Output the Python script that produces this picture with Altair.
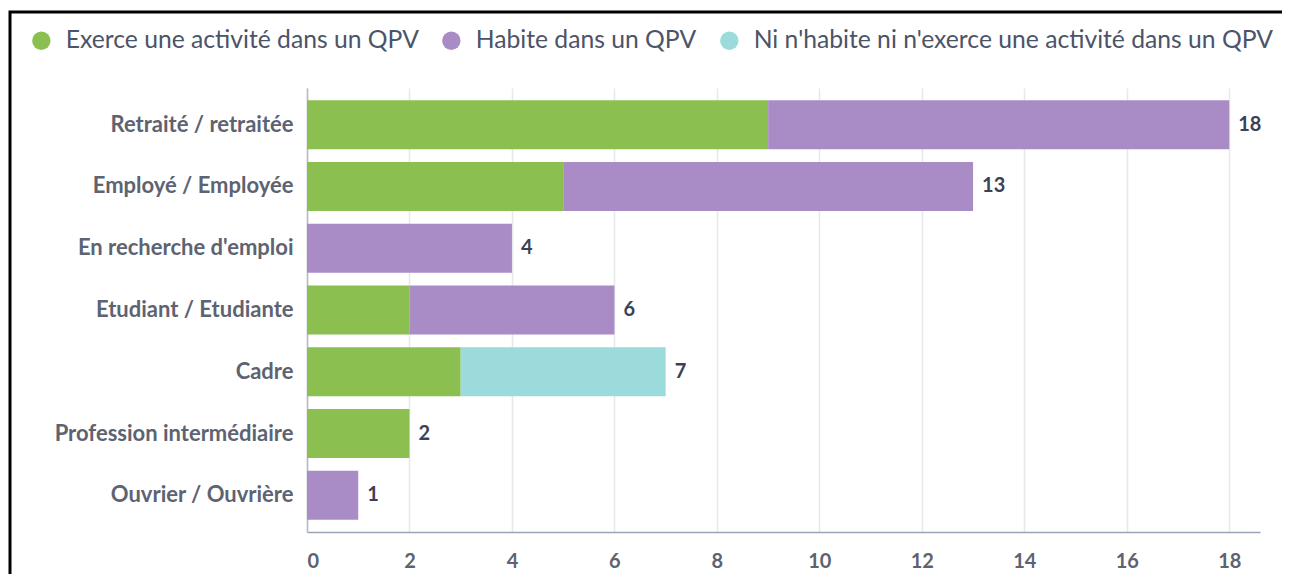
import altair as alt
import pandas as pd

categories = ["Retraité / retraitée", "Employé / Employée", "En recherche d'emploi",
              "Etudiant / Etudiante", "Cadre", "Profession intermédiaire", "Ouvrier / Ouvrière"]
series = ["Exerce une activité dans un QPV", "Habite dans un QPV",
          "Ni n'habite ni n'exerce une activité dans un QPV"]
exerce = [9, 5, 0, 2, 3, 2, 0]
habite = [9, 8, 4, 4, 0, 0, 1]
ni = [0, 0, 0, 0, 4, 0, 0]
totals = [18, 13, 4, 6, 7, 2, 1]
ticks = [0, 2, 4, 6, 8, 10, 12, 14, 16, 18]
colors = ["#8bbf4f", "#a98bc6", "#9cdbdb"]

rows = []
for i, c in enumerate(categories):
    for j, (s, vals) in enumerate(zip(series, [exerce, habite, ni])):
        if vals[i] > 0:
            rows.append({"cat": c, "serie": s, "val": vals[i], "ord": j})
df = pd.DataFrame(rows)
tot = pd.DataFrame({"cat": categories, "total": totals})

FONT = "Lato"

y_enc = alt.Y("cat:N", sort=categories, title=None,
              scale=alt.Scale(paddingInner=0.21, paddingOuter=0.2),
              axis=alt.Axis(labelFont=FONT, labelFontSize=22, labelFontWeight="bold",
                            labelColor="#5d6371", labelPadding=14, ticks=False,
                            domainColor="#b4bac8", domainWidth=1.5, labelLimit=300))

bars = alt.Chart(df).mark_bar().encode(
    x=alt.X("val:Q", stack="zero", title=None,
            scale=alt.Scale(domain=[0, 18.6], nice=False),
            axis=alt.Axis(values=ticks, labelFont=FONT, labelFontSize=20, labelFontWeight="bold",
                          labelColor="#5d6371", labelPadding=19, ticks=False,
                          domainColor="#9aa3b5", domainWidth=1.5,
                          gridColor="#e8e8ec", gridWidth=1.5)),
    y=y_enc,
    color=alt.Color("serie:N", scale=alt.Scale(domain=series, range=colors),
                    legend=alt.Legend(title=None, orient="none", direction="horizontal",
                                      legendX=-278, legendY=-60,
                                      symbolType="circle", symbolSize=340,
                                      symbolStrokeWidth=0,
                                      labelFont=FONT, labelFontSize=24.7, labelColor="#4b5468",
                                      labelOffset=12, columnPadding=20, labelLimit=700)),
    order=alt.Order("ord:Q"),
)

labels = alt.Chart(tot).mark_text(align="left", baseline="middle", dx=9, font=FONT,
                                  fontSize=20, fontWeight="bold", color="#3b4257").encode(
    x=alt.X("total:Q"),
    y=alt.Y("cat:N", sort=categories),
    text=alt.Text("total:Q"),
)

frame = alt.Chart(pd.DataFrame({"a": [0]})).mark_rect(
    fill=None, stroke="black", strokeWidth=3).encode(
    x=alt.value(-297), x2=alt.value(1000), y=alt.value(-76), y2=alt.value(560))

chart = alt.layer(bars, labels, frame).properties(
    width=953, height=444,
    autosize=alt.AutoSizeParams(type="none"),
    padding={"left": 299, "top": 80, "right": 22, "bottom": 42},
).configure_view(stroke=None)

chart.save("out.html", embed_options={"renderer": "svg", "actions": False})
